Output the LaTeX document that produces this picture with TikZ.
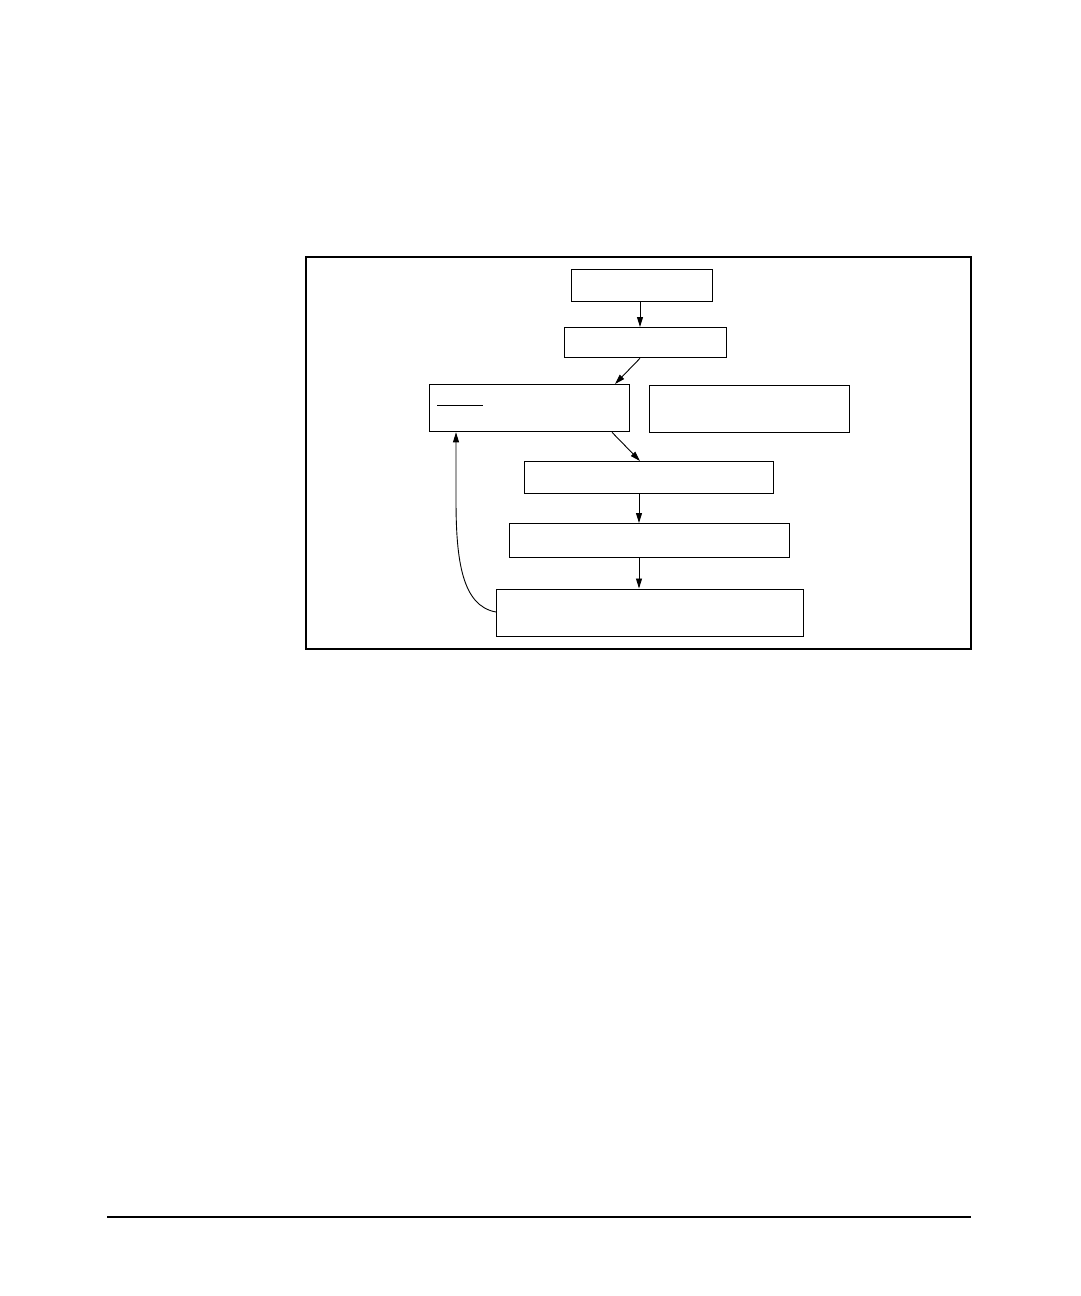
\documentclass[tikz,border=0pt]{standalone}
\usetikzlibrary{arrows.meta}
\begin{document}
\begin{tikzpicture}[x=1pt,y=-1pt,
  stepbox/.style={draw, line width=1.3pt, rectangle, inner sep=0pt, anchor=north west},
  flow/.style={line width=0.9pt, -{Triangle[length=10pt,width=6pt]}}]
\useasboundingbox (0,0) rectangle (1080,1296);
\draw[line width=2.4pt] (306,257) rectangle (971,649);
\node[stepbox, minimum width=141pt, minimum height=32pt] (b1) at (571,269) {};
\node[stepbox, minimum width=162pt, minimum height=30pt] (b2) at (564,327) {};
\node[stepbox, minimum width=200pt, minimum height=47pt] (b3) at (429,384) {};
\node[stepbox, minimum width=200pt, minimum height=47pt] (b4) at (649,385) {};
\node[stepbox, minimum width=249pt, minimum height=32pt] (b5) at (524,461) {};
\node[stepbox, minimum width=280pt, minimum height=34pt] (b6) at (509,523) {};
\node[stepbox, minimum width=307pt, minimum height=47pt] (b7) at (496,588.5) {};
\coordinate (ax) at (640,0);
\coordinate (ay) at (639,0);
\coordinate (a2) at (615,0);
\coordinate (a3) at (612,0);
\coordinate (lp) at (456,0);
\draw[line width=1pt] (437,405.7) -- (483,405.7);
\draw[flow] (b1.south -| ax) -- (b2.north -| ax);
\draw[flow] (b2.south -| ax) -- (b3.north -| a2);
\draw[flow] (b3.south -| a3) -- (b5.north -| ax);
\draw[flow] (b5.south -| ay) -- (b6.north -| ay);
\draw[flow] (b6.south -| ay) -- (b7.north -| ay);
\coordinate (c7) at (496,612);
\draw[flow] (c7) .. controls (462,606) and (456,560) .. (456,500) -- (b3.south -| lp);
\draw[line width=1.3pt] (107,1217) -- (971,1217);
\end{tikzpicture}
\end{document}
